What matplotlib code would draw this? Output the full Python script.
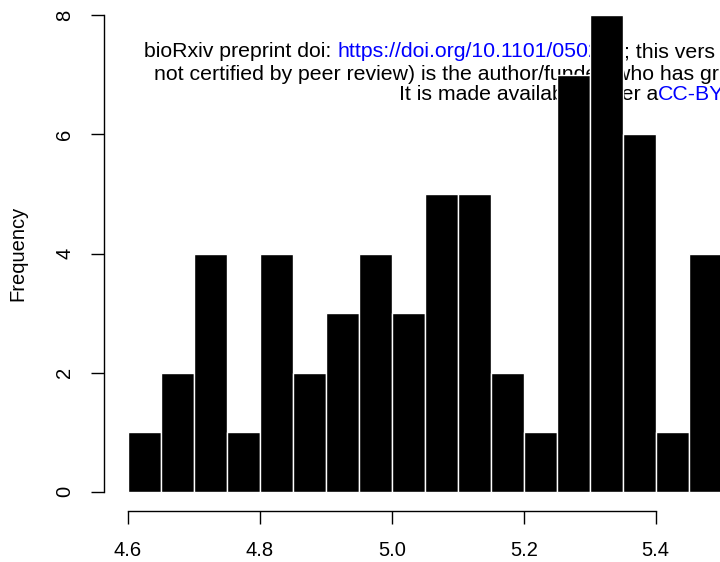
import numpy as np
import matplotlib
matplotlib.use("Agg")
import matplotlib.pyplot as plt

plt.rcParams['font.family'] = ['Liberation Sans', 'DejaVu Sans']

# histogram bins (width 0.05) and counts
bin_edges = [4.60, 4.65, 4.70, 4.75, 4.80, 4.85, 4.90, 4.95, 5.00, 5.05,
             5.10, 5.15, 5.20, 5.25, 5.30, 5.35, 5.40, 5.45, 5.50]
counts = [1, 2, 4, 1, 4, 2, 3, 4, 3, 5, 5, 2, 1, 7, 8, 6, 1, 4]
x_ticks = [4.6, 4.8, 5.0, 5.2, 5.4]
x_tick_labels = ['4.6', '4.8', '5.0', '5.2', '5.4']
y_ticks = [0, 2, 4, 6, 8]

fig = plt.figure(figsize=(7.2, 5.62), dpi=100)
W, H = 720.0, 562.0
# plot region in pixels: left 104, right ~745 (cut off), bottom 511, top ~-4
ax = fig.add_axes([104 / W, (H - 511) / H, 641.5 / W, 515 / H])
ax.patch.set_alpha(0)

lefts = np.array(bin_edges[:-1])
widths = np.diff(bin_edges)
ax.bar(lefts, counts, width=widths, align='edge', color='black',
       edgecolor='white', linewidth=1.0, zorder=2)

ax.set_xlim(4.564, 5.536)
ax.set_ylim(-0.32, 8.32)

for s in ['top', 'right']:
    ax.spines[s].set_visible(False)
ax.spines['left'].set_bounds(0, 8)
ax.spines['bottom'].set_bounds(4.6, 5.4)
ax.spines['left'].set_linewidth(1.0)
ax.spines['bottom'].set_linewidth(1.0)

ax.set_xticks(x_ticks)
ax.set_xticklabels(x_tick_labels)
ax.set_yticks(y_ticks)
ax.set_yticklabels([str(v) for v in y_ticks], rotation=90, va='center')
ax.tick_params(axis='both', direction='out', length=9.5, width=1.0,
               labelsize=14.5)
ax.tick_params(axis='x', pad=12)
ax.tick_params(axis='y', pad=12)
ax.set_ylabel('Frequency', fontsize=14.5, labelpad=20)

# bioRxiv watermark text (only the part visible in the figure), behind the bars
fig.canvas.draw()
renderer = fig.canvas.get_renderer()
fs = 15.3


def colored_line(parts, x, y, ha='left'):
    # put text pieces one after another in pixel coordinates
    texts = []
    for txt, col in parts:
        t = ax.text(0, 0, txt, color=col, fontsize=fs, transform=None,
                    zorder=1, va='baseline', ha='left')
        texts.append(t)
    widths_px = [t.get_window_extent(renderer).width for t in texts]
    total = sum(widths_px)
    if ha == 'right':
        x = x - total
    cur = x
    for t, w in zip(texts, widths_px):
        t.set_position((cur, H - y))
        cur += w


colored_line([('bioRxiv preprint doi: ', 'black'),
              ('https://doi.org/10.1101/050203', 'blue'),
              ('; this vers', 'black')],
             144, 57)
colored_line([('not certified by peer review) is the author/funder, who has gr', 'black')],
             154, 80)
colored_line([('It is made available under a', 'black')], 658, 100, ha='right')
colored_line([('CC-BY', 'blue')], 658, 100)

fig.savefig('out.png', dpi=100)
